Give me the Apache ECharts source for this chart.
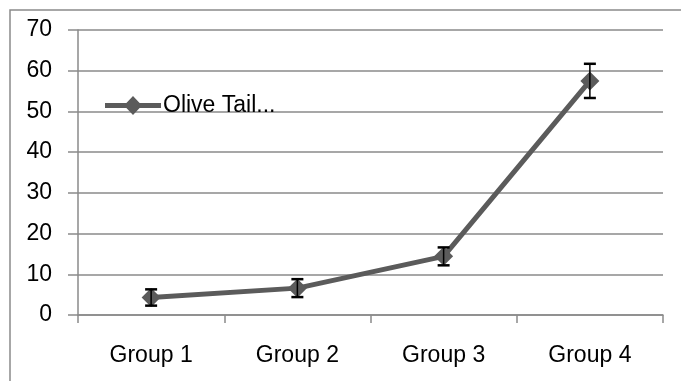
<!DOCTYPE html>
<html><head><meta charset="utf-8">
<script src="https://cdn.jsdelivr.net/npm/echarts@6/dist/echarts.min.js"></script>
<style>html,body{margin:0;padding:0;background:#fff}#c{width:681px;height:381px}</style>
</head><body><div id="c"></div>
<script>
var categories = ['Group 1', 'Group 2', 'Group 3', 'Group 4'];
var seriesName = 'Olive Tail...';
var values = [4.3, 6.6, 14.4, 57.5];
var errors = [2.0, 2.2, 2.2, 4.2];
var yTicks = { min: 0, max: 70, interval: 10 };

var FONT = 'Liberation Sans, Arial, sans-serif';
var chart = echarts.init(document.getElementById('c'), null, { renderer: 'canvas' });
var errData = values.map(function (v, i) { return [i, v - errors[i], v + errors[i]]; });

chart.setOption({
  animation: false,
  backgroundColor: '#fff',
  graphic: [{
    type: 'rect', shape: { x: 10, y: 10, width: 1000, height: 1000 },
    style: { fill: 'none', stroke: '#8a8a8a', lineWidth: 1.5 }, z: 100
  }],
  grid: { left: 78, right: 18, top: 30, bottom: 66 },
  legend: {
    data: [{ name: seriesName, icon: 'path://M0,7H56V12H0Z M28,0L37,9.5L28,19L19,9.5Z' }],
    left: 105, top: 94, padding: 0, itemWidth: 56, itemHeight: 19, itemGap: 0,
    itemStyle: { color: '#5b5b5b' },
    textStyle: { fontFamily: FONT, fontSize: 23, color: '#000', padding: [0, 0, 0, -3] }
  },
  xAxis: {
    type: 'category', data: categories, boundaryGap: true,
    axisLine: { lineStyle: { color: '#8a8a8a', width: 1.5 } },
    axisTick: { show: true, length: 8, lineStyle: { color: '#8a8a8a', width: 1.5 } },
    axisLabel: { fontFamily: FONT, fontSize: 23, color: '#000', margin: 29 },
    splitLine: { show: false }
  },
  yAxis: {
    type: 'value', min: yTicks.min, max: yTicks.max, interval: yTicks.interval,
    axisLine: { show: true, lineStyle: { color: '#8a8a8a', width: 1.5 } },
    axisTick: { show: true, length: 10, lineStyle: { color: '#8a8a8a', width: 1.5 } },
    axisLabel: { fontFamily: FONT, fontSize: 23, color: '#000', margin: 26 },
    splitLine: { show: true, lineStyle: { color: '#8a8a8a', width: 1.5 } }
  },
  series: [{
    name: seriesName, type: 'line', data: values,
    symbol: 'diamond', symbolSize: 19,
    lineStyle: { color: '#5b5b5b', width: 5 },
    itemStyle: { color: '#5b5b5b' },
    z: 3
  }, {
    type: 'custom', name: 'err', data: errData, z: 4,
    renderItem: function (params, api) {
      var x = api.value(0);
      var lo = api.coord([x, api.value(1)]);
      var hi = api.coord([x, api.value(2)]);
      var w = 6;
      var st = { stroke: '#000', lineWidth: 1.5 };
      return { type: 'group', children: [
        { type: 'line', shape: { x1: lo[0], y1: lo[1], x2: hi[0], y2: hi[1] }, style: st },
        { type: 'line', shape: { x1: lo[0] - w, y1: lo[1], x2: lo[0] + w, y2: lo[1] }, style: { stroke: '#000', lineWidth: 2.5 } },
        { type: 'line', shape: { x1: hi[0] - w, y1: hi[1], x2: hi[0] + w, y2: hi[1] }, style: { stroke: '#000', lineWidth: 2.5 } }
      ] };
    }
  }]
});
</script></body></html>
